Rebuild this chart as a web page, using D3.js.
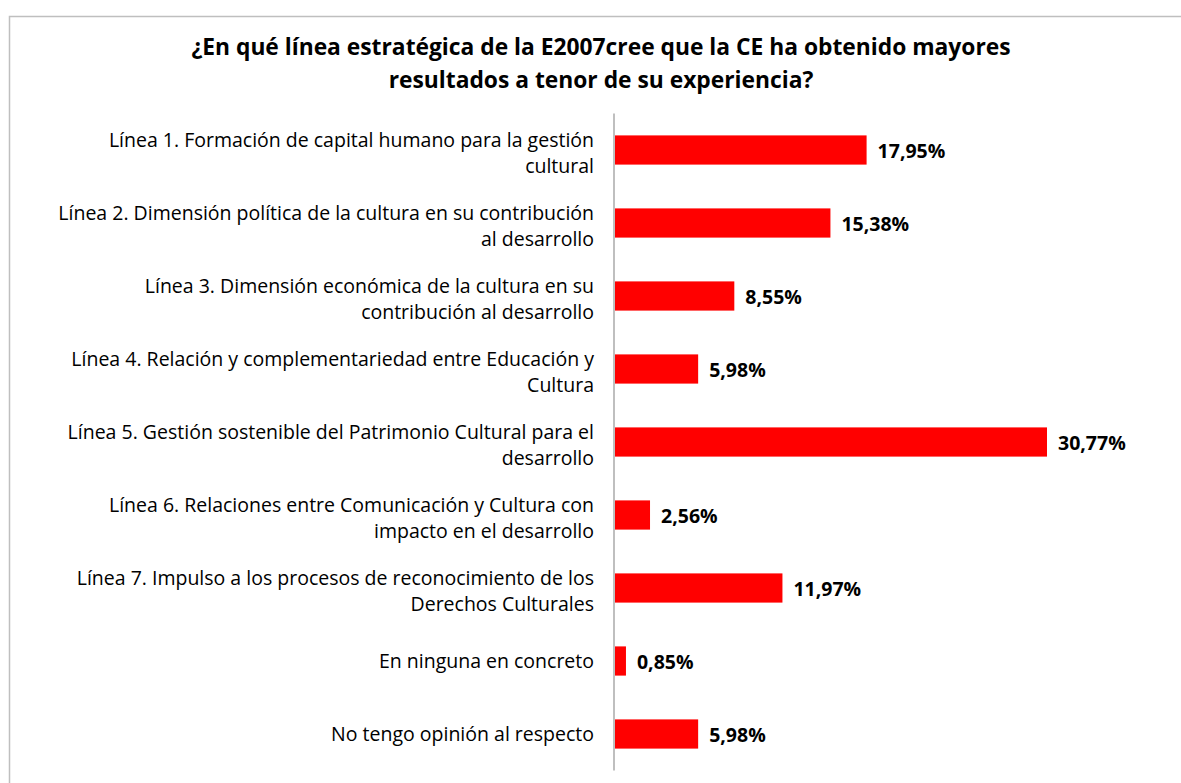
<!DOCTYPE html>
<html><head><meta charset="utf-8">
<script src="https://cdn.jsdelivr.net/npm/d3@7"></script>
<style>body{margin:0;background:#fff}svg{display:block}</style>
</head><body>
<script>
const titleLines = ["¿En qué línea estratégica de la E2007cree  que la CE ha obtenido mayores", "resultados a tenor de su experiencia?"];
const categories = [
  ["Línea 1. Formación de capital humano para la gestión", "cultural"],
  ["Línea 2. Dimensión política de la cultura en su contribución", "al desarrollo"],
  ["Línea 3. Dimensión económica de la cultura en su", "contribución al desarrollo"],
  ["Línea 4. Relación y complementariedad entre Educación y", "Cultura"],
  ["Línea 5. Gestión sostenible  del Patrimonio Cultural para el", "desarrollo"],
  ["Línea 6. Relaciones entre Comunicación y Cultura con", "impacto en el desarrollo"],
  ["Línea 7. Impulso a los procesos de reconocimiento de los", "Derechos Culturales"],
  ["En ninguna en concreto"],
  ["No tengo opinión al respecto"]
];
const values = [17.95, 15.38, 8.55, 5.98, 30.77, 2.56, 11.97, 0.85, 5.98];
const valueLabels = ["17,95%", "15,38%", "8,55%", "5,98%", "30,77%", "2,56%", "11,97%", "0,85%", "5,98%"];

const W = 1181, H = 783;
const svg = d3.select("body").append("svg").attr("width", W).attr("height", H);
const font = "'Open Sans', sans-serif";

svg.append("path").attr("d", `M9.5,${H} V16.5 H${W}`).attr("fill", "none").attr("stroke", "#bfbfbf").attr("stroke-width", 1.5);

svg.append("text").attr("text-anchor", "middle").attr("font-family", font).attr("font-weight", "bold")
  .attr("font-size", 22.8).attr("fill", "#000")
  .selectAll("tspan").data(titleLines).join("tspan")
  .attr("x", 601).attr("y", (d, i) => 55 + i * 33).text(d => d);

const x0 = 614;
const x = d3.scaleLinear().domain([0, 30.77]).range([x0, 1047]);
const y = d3.scaleBand().domain(d3.range(categories.length)).range([113.5, 770.5]).paddingInner(0.6).paddingOuter(0.3);

svg.selectAll("rect.bar").data(values).join("rect").attr("class", "bar")
  .attr("x", x(0)).attr("y", (d, i) => y(i)).attr("width", d => x(d) - x(0)).attr("height", y.bandwidth())
  .attr("fill", "#ff0000");

svg.append("line").attr("x1", x0).attr("x2", x0).attr("y1", 113.5).attr("y2", 770.5)
  .attr("stroke", "#bfbfbf").attr("stroke-width", 2);

const lab = svg.selectAll("text.cat").data(categories).join("text").attr("class", "cat")
  .attr("text-anchor", "end").attr("font-family", font).attr("font-size", 19.5).attr("fill", "#000");
lab.each(function(lines, i) {
  const cy = y(i) + y.bandwidth() / 2;
  const n = lines.length;
  d3.select(this).selectAll("tspan").data(lines).join("tspan")
    .attr("x", 594)
    .attr("y", (d, j) => cy + 7 + (j - (n - 1) / 2) * 26 + (n > 1 ? 3 : 0))
    .text(d => d);
});

svg.selectAll("text.val").data(values).join("text").attr("class", "val")
  .attr("x", d => x(d) + 11).attr("y", (d, i) => y(i) + y.bandwidth() / 2 + 8)
  .attr("font-family", font).attr("font-weight", "bold").attr("font-size", 19.5).attr("fill", "#000")
  .text((d, i) => valueLabels[i]);
</script>
</body></html>
